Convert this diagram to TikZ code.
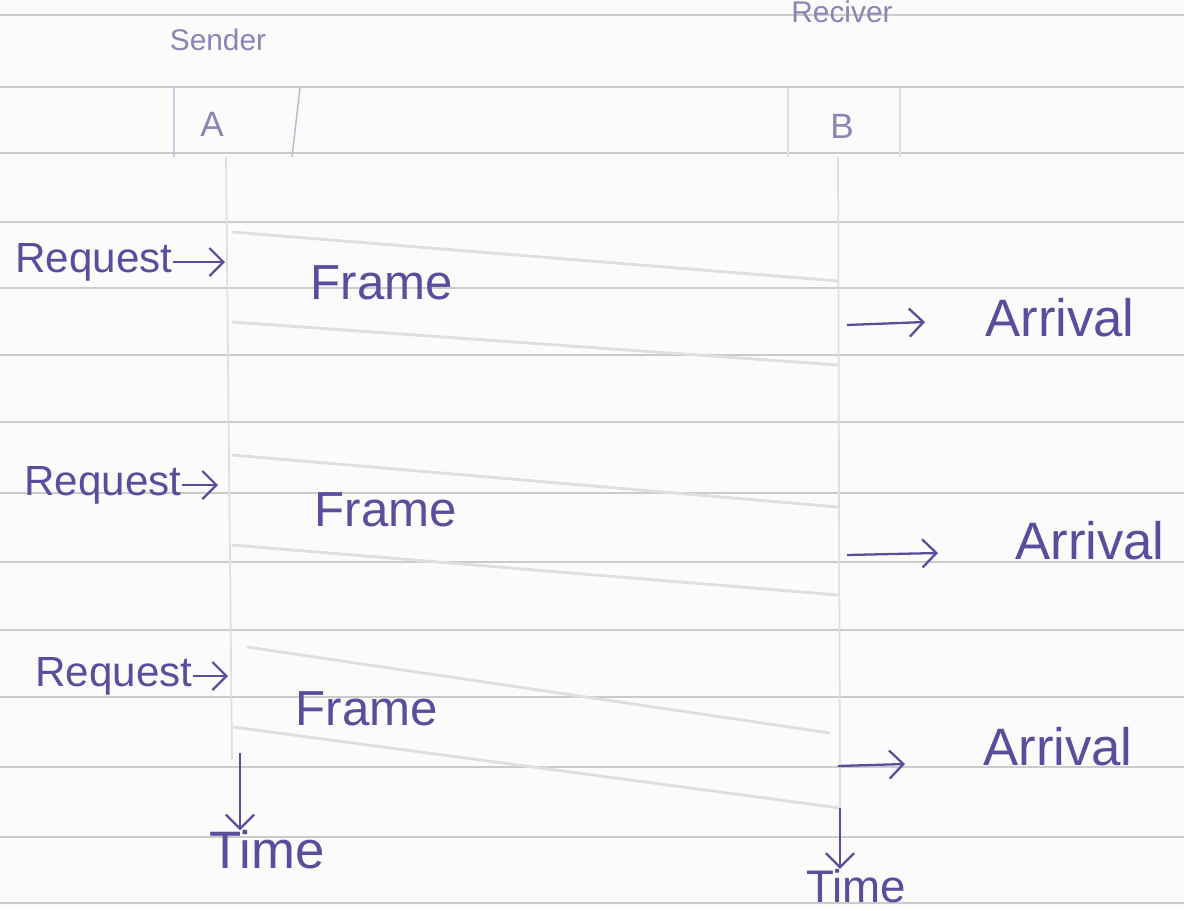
\documentclass[tikz,border=0pt]{standalone}
\usepackage{fontspec}
\setmainfont{Liberation Sans}
\usetikzlibrary{arrows.meta}
\definecolor{ink}{HTML}{5A4E9C}
\definecolor{paleink}{HTML}{8C84B4}
\definecolor{rule}{HTML}{CFCACA}
\definecolor{pencil}{HTML}{E2DEDE}
\definecolor{paper}{HTML}{FCFBFB}

\begin{document}
\begin{tikzpicture}[x=0.02cm, y=-0.02cm,
  hand/.style = {text=ink, font=\fontsize{28}{30}\selectfont, inner sep=0pt},
  head/.style = {text=paleink, font=\fontsize{17}{19}\selectfont, inner sep=0pt},
  pen/.style = {draw=ink, line width=1.3pt, -{Straight Barb[length=8pt,width=16pt]}},
  pencilline/.style = {draw=pencil, line width=1.6pt},
  ruled/.style = {draw=rule, line width=0.8pt}]
  \useasboundingbox[fill=paper] (0,0) rectangle (1184,910);
  % ruled paper
  \foreach \y in {15,87,153,222,288,355,422,493,562,630,697,767,837,903}
    \draw[ruled] (0,\y) -- (1184,\y);

  % sender and receiver
  \node[head] (sender) at (218,40) {Sender};
  \node[head] (receiver) at (842,12) {Reciver};
  \node[head, font=\fontsize{20}{22}\selectfont] (a) at (212,124) {A};
  \node[head, font=\fontsize{20}{22}\selectfont] (b) at (842,126) {B};
  \draw[draw=paleink!60, line width=0.8pt] (174,88) -- (174,157) (300,88) -- (292,157);
  \draw[draw=pencil, line width=0.8pt] (788,88) -- (788,157) (900,88) -- (900,157);
  \coordinate (s0) at (226,157);
  \coordinate (s1) at (232,760);
  \coordinate (r0) at (838,157);
  \coordinate (r1) at (840,808);
  \draw[pencilline, line width=1pt] (s0) -- (s1) (r0) -- (r1);

  % frames
  \draw[pencilline] (232,232) -- (838,281) (232,322) -- (838,365);
  \draw[pencilline] (232,455) -- (838,507) (232,545) -- (838,595);
  \draw[pencilline] (247,647) -- (830,733) (233,727) -- (r1);
  \node[hand] (frame1) at (382,283) {Frame};
  \node[hand] (frame2) at (386,510) {Frame};
  \node[hand] (frame3) at (367,709) {Frame};

  % requests
  \node[hand, anchor=west, font=\fontsize{24}{26}\selectfont] (req1) at (15,262) {Request};
  \node[hand, anchor=west, font=\fontsize{24}{26}\selectfont] (req2) at (24,485) {Request};
  \node[hand, anchor=west, font=\fontsize{24}{26}\selectfont] (req3) at (35,676) {Request};
  \coordinate (in1) at (225,262);
  \coordinate (in2) at (218,485);
  \coordinate (in3) at (228,676);
  \draw[pen] (req1.east) -- (in1);
  \draw[pen] (req2.east) -- (in2);
  \draw[pen] (req3.east) -- (in3);

  % arrivals
  \node[hand, anchor=west, font=\fontsize{30}{32}\selectfont] (arr1) at (985,318) {Arrival};
  \node[hand, anchor=west, font=\fontsize{30}{32}\selectfont] (arr2) at (1015,541) {Arrival};
  \node[hand, anchor=west, font=\fontsize{30}{32}\selectfont] (arr3) at (983,747) {Arrival};
  \coordinate (out1) at (847,325);
  \coordinate (out2) at (847,555);
  \coordinate (out3) at (838,766);
  \coordinate (tip1) at (925,322);
  \coordinate (tip2) at (938,553);
  \coordinate (tip3) at (905,764);
  \draw[pen] (out1) -- (tip1);
  \draw[pen] (out2) -- (tip2);
  \draw[pen] (out3) -- (tip3);

  % time
  \node[hand, font=\fontsize{30}{32}\selectfont] (time1) at (267,850) {Time};
  \node[hand, font=\fontsize{26}{28}\selectfont] (time2) at (856,886) {Time};
  \coordinate (down1) at (240,753);
  \draw[pen] (down1) -- (time1.north -| down1);
  \draw[pen] (r1) -- (time2.north -| r1);
\end{tikzpicture}
\end{document}
